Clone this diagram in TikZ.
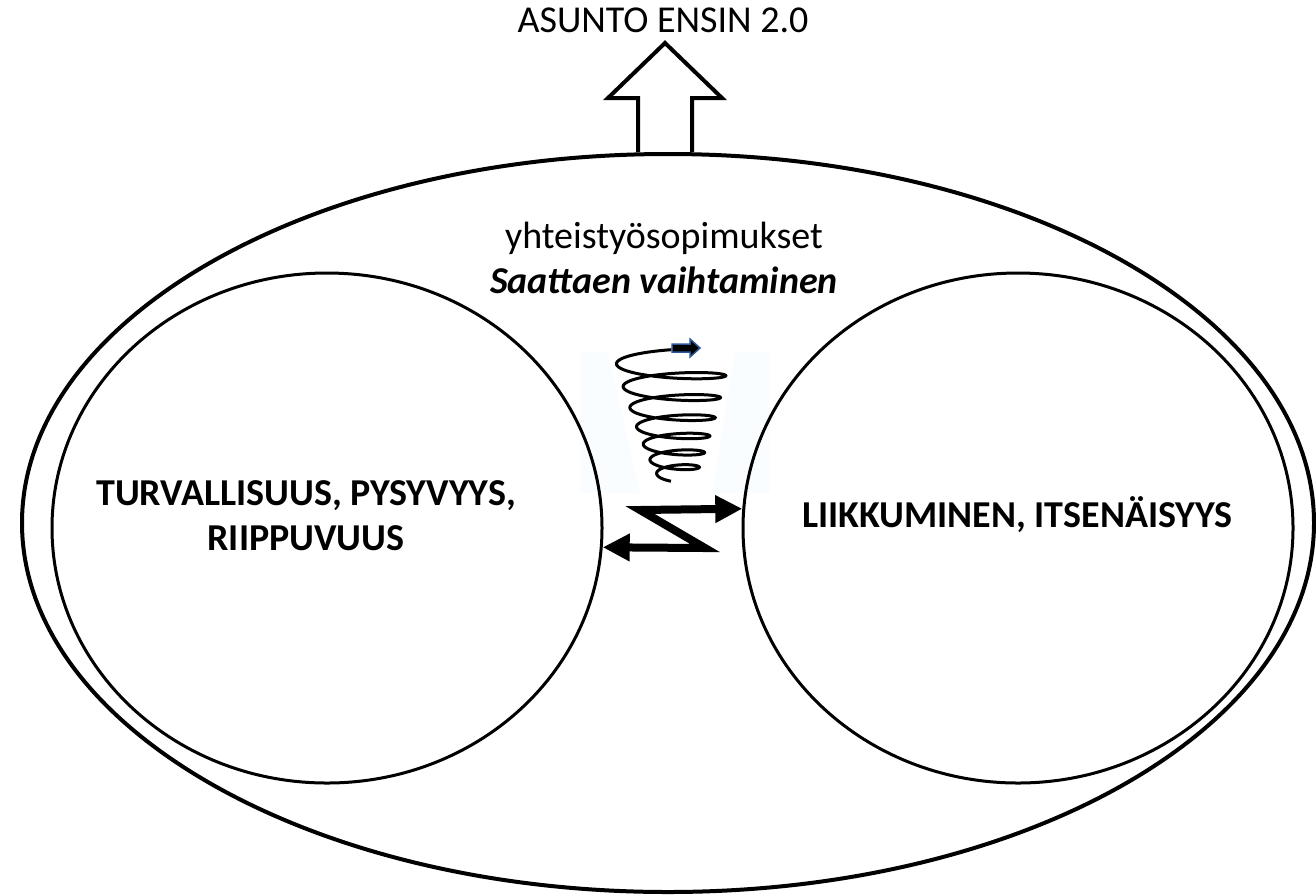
\documentclass[tikz,border=0pt]{standalone}
\usepackage{fontspec}
\setmainfont{Carlito}
\usetikzlibrary{positioning,shapes.geometric,arrows.meta}
\definecolor{tipblue}{RGB}{47,85,151}
\definecolor{paleblue}{RGB}{249,253,255}
\tikzset{worldnode/.style={shape=ellipse, draw=black, line width=4pt, inner sep=0pt, minimum width=1292pt, minimum height=738pt}}
\tikzset{ringnode/.style={shape=ellipse, draw=black, line width=3pt, inner sep=0pt, minimum width=550pt, minimum height=510pt}}
\tikzset{labelnode/.style={font=\fontsize{38}{45}\selectfont\bfseries, align=center, inner sep=0pt}}
\tikzset{textnode/.style={font=\fontsize{38}{45}\selectfont, inner sep=0pt}}
\tikzset{zigzag/.style={line width=8pt, line join=miter, {Triangle[length=27pt,width=26pt]}-{Triangle[length=27pt,width=26pt]}}}

\begin{document}
\begin{tikzpicture}[x=1pt,y=-1pt]
\useasboundingbox (0,0) rectangle (1316,895);
% pale backdrop of the spiral
\fill[paleblue, even odd rule] (580,352) rectangle (770,493) (608,352) -- (735,352) -- (712,493) -- (640,493) -- cycle;
%Nodes
\node[worldnode] (world) at (668,523) {};
\node[ringnode]  (safe)  at (327,528) {};
\node[ringnode]  (free)  at (1018,528) {};
\node[labelnode] (safetext) at (306,516) {TURVALLISUUS, PYSYVYYS,\\RIIPPUVUUS};
\node[labelnode, anchor=base west] (freetext) at (802,527) {LIIKKUMINEN, ITSENÄISYYS};
\node[textnode, anchor=base] (title) at (663,32) {ASUNTO ENSIN 2.0};
\node[textnode, anchor=base] (coop)  at (664,248) {yhteistyösopimukset};
\node[textnode, anchor=base, font=\fontsize{38}{45}\selectfont\bfseries\itshape] (swap) at (664,293) {Saattaen vaihtaminen};
%Lines
\draw[line width=4pt, line join=miter] ([xshift=-30pt]world.north) -- ++(0,-54) -- ++(-30,0) -- ++(57,-55) -- ++(57,55) -- ++(-30,0) -- ([xshift=24pt]world.north);
\draw[line width=3pt] plot[domain=0.3:6.75, samples=400, smooth] ({677-0.7*\x+(17+6*\x)*cos(360*\x)}, {480-12*\x-0.9*\x*\x+(5+0.5*\x)*sin(360*\x)});
\coordinate (spiralend) at (672,348);
\draw[draw=tipblue, fill=black, line width=1.5pt, line join=miter] (spiralend) ++(0,-4) -- ++(18,0) -- ++(0,-5) -- ++(10,9) -- ++(-10,9) -- ++(0,-5) -- ++(-18,0) -- cycle;
\draw[zigzag] (safe.-4) -- (705,548) -- (640,510) -- (free.176);
\end{tikzpicture}
\end{document}
